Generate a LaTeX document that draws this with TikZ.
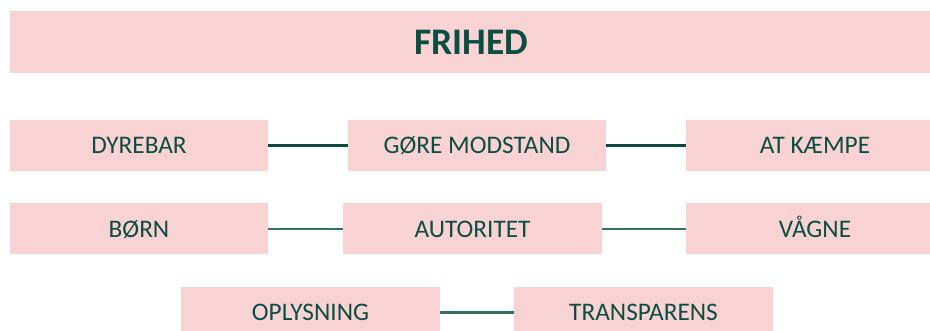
\documentclass[tikz,border=0pt]{standalone}
\usepackage{fontspec}
\setmainfont{Carlito}
\definecolor{boxpink}{HTML}{F9D3D4}
\definecolor{txtgreen}{HTML}{0B4D40}
\definecolor{lineA}{HTML}{0B4B3E}
\definecolor{lineB}{HTML}{37705F}
\begin{document}
\begin{tikzpicture}[x=1pt,y=-1pt,
  pbox/.style={rectangle, fill=boxpink, inner sep=0pt, minimum height=51pt, minimum width=258pt,
    text=txtgreen, font=\fontsize{25.3}{27}\selectfont, text height=16.3pt, text depth=0pt},
  title/.style={rectangle, fill=boxpink, inner sep=0pt, minimum height=62pt, minimum width=922pt,
    text=txtgreen, font=\fontsize{37.5}{40}\selectfont\bfseries, text height=24.1pt, text depth=0pt},
  linkA/.style={draw=lineA, line width=2.2pt},
  linkB/.style={draw=lineB, line width=2.2pt}]
\useasboundingbox (0,0) rectangle (930,331);
\clip (0,0) rectangle (930,331);
\fill[white] (0,0) rectangle (930,331);
\node[title] (frihed) at (471,42) {FRIHED};
\node[pbox] (dyrebar) at (139,145.5) {DYREBAR};
\node[pbox] (gore) at (477,145.5) {GØRE MODSTAND};
\node[pbox] (kaempe) at (815,145.5) {AT KÆMPE};
\node[pbox] (born) at (139,229) {BØRN};
\node[pbox, minimum width=259pt] (autoritet) at (472.5,229) {AUTORITET};
\node[pbox] (vagne) at (815,229) {VÅGNE};
\node[pbox, minimum width=259pt] (oplysning) at (310.5,312.5) {OPLYSNING};
\node[pbox, minimum width=259pt] (transparens) at (643.5,312.5) {TRANSPARENS};
\draw[linkA] (dyrebar.east) -- (gore.west);
\draw[linkA] (gore.east) -- (kaempe.west);
\draw[linkB] (born.east) -- (autoritet.west);
\draw[linkB] (autoritet.east) -- (vagne.west);
\draw[linkB] (oplysning.east) -- (transparens.west);
\end{tikzpicture}
\end{document}
